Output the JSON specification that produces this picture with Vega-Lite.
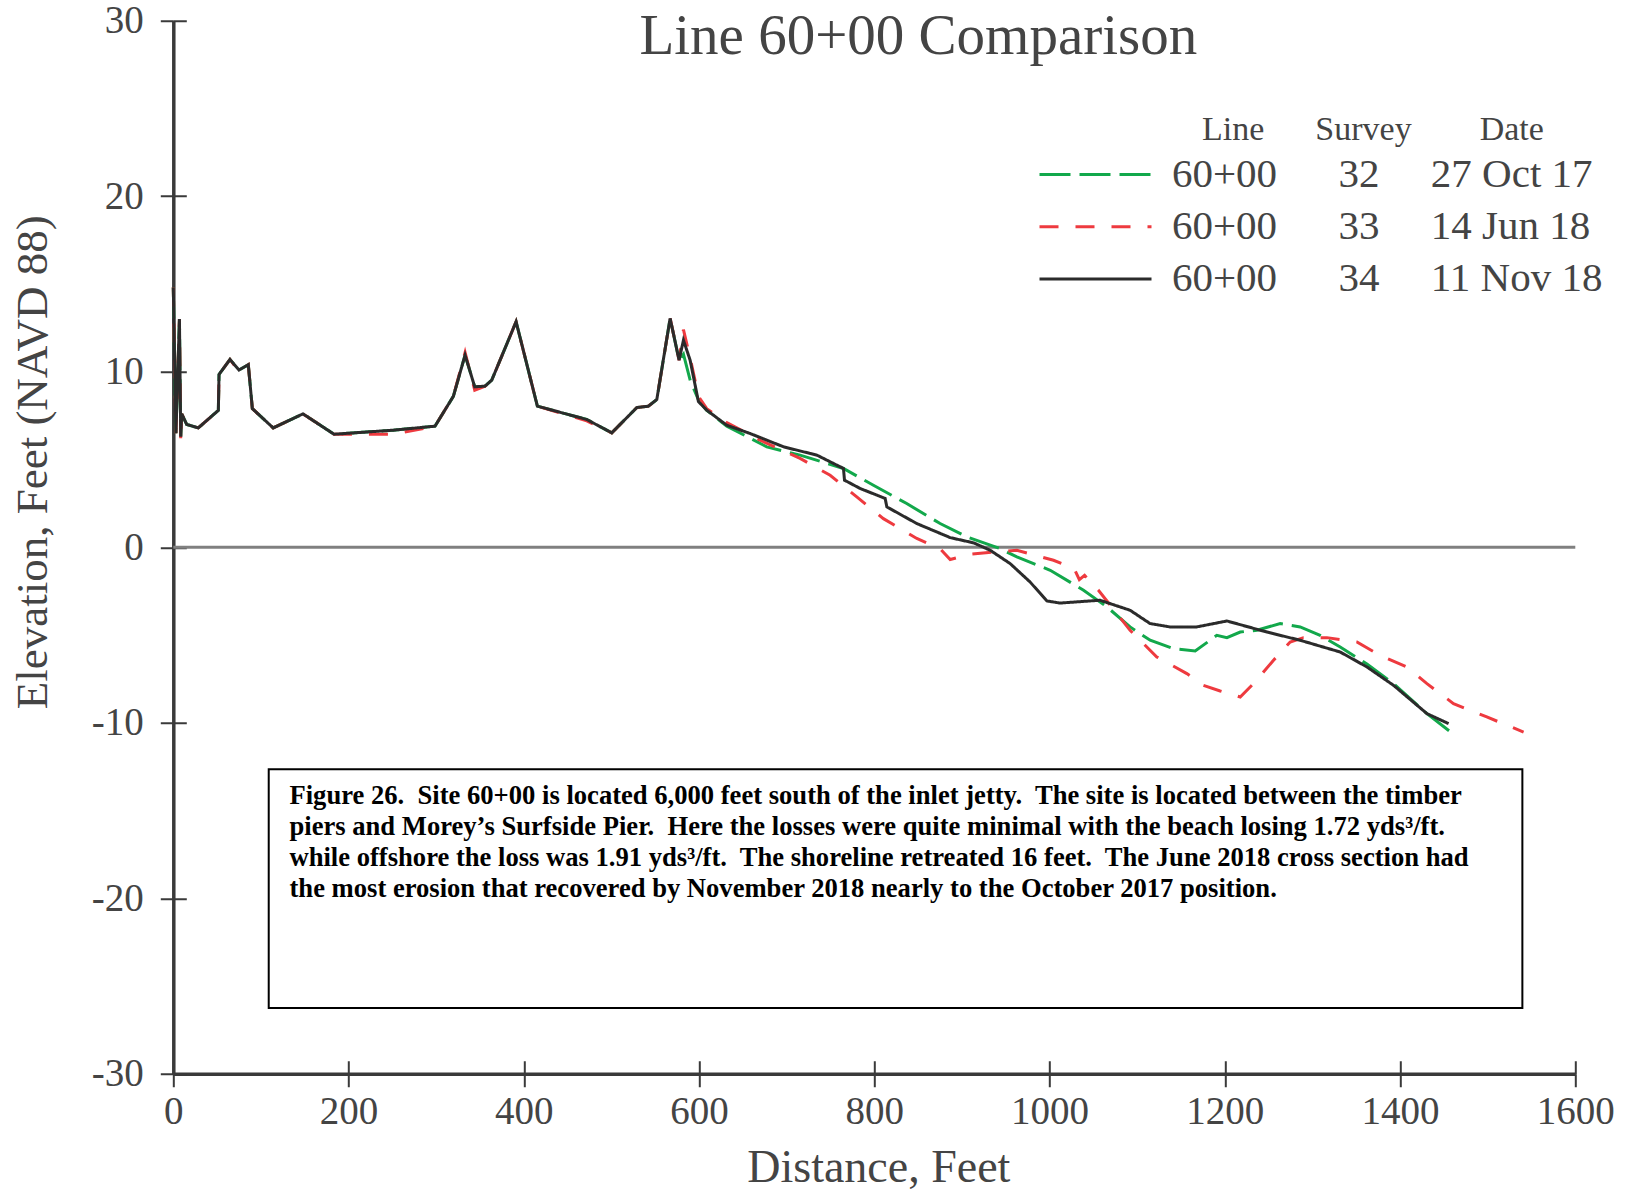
{
  "$schema": "https://vega.github.io/schema/vega-lite/v6.json",
  "width": 1402,
  "height": 1053,
  "autosize": {"type": "none"},
  "padding": {"left": 173.3, "top": 20.75, "right": 51.7, "bottom": 115.25},
  "background": "white",
  "config": {"view": {"stroke": null}, "font": "Liberation Serif"},
  "title": {"text": "Line 60+00 Comparison", "font": "Liberation Serif", "fontSize": 57, "fontWeight": "normal", "color": "#444444", "anchor": "middle", "frame": "group", "orient": "top", "offset": 0, "baseline": "alphabetic", "dx": 44, "dy": 109},
  "data": {"values": [
    {"survey":"32","dist":0,"elev":14.8},{"survey":"32","dist":3,"elev":6.5},{"survey":"32","dist":7,"elev":13.0},{"survey":"32","dist":8.5,"elev":6.3},{"survey":"32","dist":9.6,"elev":7.6},{"survey":"32","dist":15.3,"elev":7.0},{"survey":"32","dist":28.5,"elev":6.8},{"survey":"32","dist":51.4,"elev":7.8},{"survey":"32","dist":52.2,"elev":9.85},{"survey":"32","dist":64.7,"elev":10.7},{"survey":"32","dist":75,"elev":10.1},{"survey":"32","dist":85.6,"elev":10.4},{"survey":"32","dist":90.2,"elev":7.9},{"survey":"32","dist":114,"elev":6.8},{"survey":"32","dist":148,"elev":7.6},{"survey":"32","dist":183.4,"elev":6.44},{"survey":"32","dist":251,"elev":6.67},{"survey":"32","dist":298.7,"elev":6.9},{"survey":"32","dist":319.6,"elev":8.6},{"survey":"32","dist":333,"elev":10.95},{"survey":"32","dist":344,"elev":9.14},{"survey":"32","dist":355.8,"elev":9.18},{"survey":"32","dist":363.4,"elev":9.52},{"survey":"32","dist":391.2,"elev":12.85},{"survey":"32","dist":415.5,"elev":8.04},{"survey":"32","dist":471.8,"elev":7.28},{"survey":"32","dist":500.4,"elev":6.52},{"survey":"32","dist":529,"elev":7.96},{"survey":"32","dist":542.2,"elev":8.04},{"survey":"32","dist":551.8,"elev":8.42},{"survey":"32","dist":567,"elev":13.04},{"survey":"32","dist":577.2,"elev":10.66},
    {"survey":"32","dist":582.2,"elev":11.0},{"survey":"32","dist":590,"elev":9.5},{"survey":"32","dist":599.3,"elev":8.4},{"survey":"32","dist":608.8,"elev":7.8},{"survey":"32","dist":631.7,"elev":6.9},{"survey":"32","dist":677.3,"elev":5.72},{"survey":"32","dist":715.3,"elev":5.25},{"survey":"32","dist":764.8,"elev":4.49},{"survey":"32","dist":799,"elev":3.53},{"survey":"32","dist":837,"elev":2.49},{"survey":"32","dist":875.1,"elev":1.35},{"survey":"32","dist":905.6,"elev":0.59},{"survey":"32","dist":943.6,"elev":-0.08},{"survey":"32","dist":962.7,"elev":-0.55},{"survey":"32","dist":1000.8,"elev":-1.31},{"survey":"32","dist":1038.8,"elev":-2.45},{"survey":"32","dist":1065.5,"elev":-3.4},{"survey":"32","dist":1091.9,"elev":-4.54},{"survey":"32","dist":1114.8,"elev":-5.3},{"survey":"32","dist":1141.4,"elev":-5.78},{"survey":"32","dist":1166.2,"elev":-5.91},{"survey":"32","dist":1190.9,"elev":-5.02},{"survey":"32","dist":1202.4,"elev":-5.15},{"survey":"32","dist":1217.6,"elev":-4.83},{"survey":"32","dist":1236.6,"elev":-4.73},{"survey":"32","dist":1263.2,"elev":-4.35},{"survey":"32","dist":1286,"elev":-4.54},{"survey":"32","dist":1308.8,"elev":-5.02},{"survey":"32","dist":1331.7,"elev":-5.68},{"survey":"32","dist":1362.2,"elev":-6.65},{"survey":"32","dist":1392.6,"elev":-7.77},{"survey":"32","dist":1430.7,"elev":-9.48},{"survey":"32","dist":1459.2,"elev":-10.58},

    {"survey":"33","dist":0,"elev":14.8},{"survey":"33","dist":3,"elev":6.5},{"survey":"33","dist":7,"elev":13.0},{"survey":"33","dist":8.5,"elev":6.0},{"survey":"33","dist":9.6,"elev":7.6},{"survey":"33","dist":15.3,"elev":7.0},{"survey":"33","dist":28.5,"elev":6.8},{"survey":"33","dist":51.4,"elev":7.8},{"survey":"33","dist":52.2,"elev":9.85},{"survey":"33","dist":64.7,"elev":10.7},{"survey":"33","dist":75,"elev":10.0},{"survey":"33","dist":85.6,"elev":10.4},{"survey":"33","dist":90.2,"elev":7.9},{"survey":"33","dist":114,"elev":6.8},{"survey":"33","dist":148,"elev":7.6},{"survey":"33","dist":183.4,"elev":6.44},{"survey":"33","dist":251,"elev":6.44},{"survey":"33","dist":298.7,"elev":6.9},{"survey":"33","dist":319.6,"elev":8.6},{"survey":"33","dist":333,"elev":11.1},{"survey":"33","dist":344,"elev":8.95},{"survey":"33","dist":355.8,"elev":9.18},{"survey":"33","dist":363.4,"elev":9.52},{"survey":"33","dist":391.2,"elev":12.85},{"survey":"33","dist":415.5,"elev":8.04},{"survey":"33","dist":471.8,"elev":7.2},{"survey":"33","dist":500.4,"elev":6.52},{"survey":"33","dist":529,"elev":7.96},{"survey":"33","dist":542.2,"elev":8.04},{"survey":"33","dist":551.8,"elev":8.42},{"survey":"33","dist":567,"elev":13.04},{"survey":"33","dist":577.2,"elev":10.66},
    {"survey":"33","dist":582.2,"elev":12.4},{"survey":"33","dist":589.8,"elev":10.8},{"survey":"33","dist":599.3,"elev":8.6},{"survey":"33","dist":608.8,"elev":7.9},{"survey":"33","dist":631.7,"elev":7.1},{"survey":"33","dist":669.7,"elev":6.1},{"survey":"33","dist":715.3,"elev":5.06},{"survey":"33","dist":749.6,"elev":4.1},{"survey":"33","dist":780,"elev":2.87},{"survey":"33","dist":810.4,"elev":1.63},{"survey":"33","dist":848.5,"elev":0.5},{"survey":"33","dist":875.1,"elev":-0.08},{"survey":"33","dist":886.6,"elev":-0.7},{"survey":"33","dist":909.4,"elev":-0.4},{"survey":"33","dist":936,"elev":-0.27},{"survey":"33","dist":962.7,"elev":-0.17},{"survey":"33","dist":1004.5,"elev":-0.74},{"survey":"33","dist":1028,"elev":-1.2},{"survey":"33","dist":1034,"elev":-1.85},{"survey":"33","dist":1040,"elev":-1.6},{"survey":"33","dist":1055.8,"elev":-2.45},{"survey":"33","dist":1091.9,"elev":-4.73},{"survey":"33","dist":1122.4,"elev":-6.25},{"survey":"33","dist":1156.7,"elev":-7.2},{"survey":"33","dist":1175.6,"elev":-7.87},{"survey":"33","dist":1194.7,"elev":-8.19},{"survey":"33","dist":1217.6,"elev":-8.53},{"survey":"33","dist":1232.8,"elev":-7.77},{"survey":"33","dist":1255.6,"elev":-6.44},{"survey":"33","dist":1274.6,"elev":-5.4},{"survey":"33","dist":1289.8,"elev":-5.15},{"survey":"33","dist":1316.5,"elev":-5.15},{"survey":"33","dist":1350.7,"elev":-5.4},{"survey":"33","dist":1377.3,"elev":-6.16},{"survey":"33","dist":1407.7,"elev":-6.82},{"survey":"33","dist":1430.7,"elev":-7.77},{"survey":"33","dist":1461,"elev":-8.91},{"survey":"33","dist":1499,"elev":-9.67},{"survey":"33","dist":1541,"elev":-10.53},

    {"survey":"34","dist":0,"elev":14.8},{"survey":"34","dist":3,"elev":6.5},{"survey":"34","dist":7,"elev":13.0},{"survey":"34","dist":8.5,"elev":6.3},{"survey":"34","dist":9.6,"elev":7.6},{"survey":"34","dist":15.3,"elev":7.0},{"survey":"34","dist":28.5,"elev":6.8},{"survey":"34","dist":51.4,"elev":7.8},{"survey":"34","dist":52.2,"elev":9.85},{"survey":"34","dist":64.7,"elev":10.7},{"survey":"34","dist":75,"elev":10.1},{"survey":"34","dist":85.6,"elev":10.4},{"survey":"34","dist":90.2,"elev":7.9},{"survey":"34","dist":114,"elev":6.8},{"survey":"34","dist":148,"elev":7.6},{"survey":"34","dist":183.4,"elev":6.44},{"survey":"34","dist":251,"elev":6.67},{"survey":"34","dist":298.7,"elev":6.9},{"survey":"34","dist":319.6,"elev":8.6},{"survey":"34","dist":333,"elev":10.95},{"survey":"34","dist":344,"elev":9.14},{"survey":"34","dist":355.8,"elev":9.18},{"survey":"34","dist":363.4,"elev":9.52},{"survey":"34","dist":391.2,"elev":12.85},{"survey":"34","dist":415.5,"elev":8.04},{"survey":"34","dist":471.8,"elev":7.28},{"survey":"34","dist":500.4,"elev":6.52},{"survey":"34","dist":529,"elev":7.96},{"survey":"34","dist":542.2,"elev":8.04},{"survey":"34","dist":551.8,"elev":8.42},{"survey":"34","dist":567,"elev":13.04},{"survey":"34","dist":577.2,"elev":10.66},
    {"survey":"34","dist":582.2,"elev":11.8},{"survey":"34","dist":589.8,"elev":10.66},{"survey":"34","dist":599.3,"elev":8.3},{"survey":"34","dist":608.8,"elev":7.81},{"survey":"34","dist":631.7,"elev":6.95},{"survey":"34","dist":658.3,"elev":6.48},{"survey":"34","dist":696.6,"elev":5.72},{"survey":"34","dist":734.4,"elev":5.25},{"survey":"34","dist":764.8,"elev":4.49},{"survey":"34","dist":766,"elev":3.82},{"survey":"34","dist":783.8,"elev":3.35},{"survey":"34","dist":812.4,"elev":2.78},{"survey":"34","dist":814.3,"elev":2.3},{"survey":"34","dist":848.5,"elev":1.35},{"survey":"34","dist":886.6,"elev":0.55},{"survey":"34","dist":913.3,"elev":0.25},{"survey":"34","dist":932.2,"elev":-0.17},{"survey":"34","dist":955,"elev":-0.93},{"survey":"34","dist":977.8,"elev":-1.98},{"survey":"34","dist":996.9,"elev":-3.06},{"survey":"34","dist":1012,"elev":-3.18},{"survey":"34","dist":1057.6,"elev":-3.02},{"survey":"34","dist":1091.9,"elev":-3.59},{"survey":"34","dist":1114.8,"elev":-4.35},{"survey":"34","dist":1137.6,"elev":-4.54},{"survey":"34","dist":1168,"elev":-4.54},{"survey":"34","dist":1202.4,"elev":-4.2},{"survey":"34","dist":1248,"elev":-4.83},{"survey":"34","dist":1286,"elev":-5.3},{"survey":"34","dist":1331.7,"elev":-5.97},{"survey":"34","dist":1362.2,"elev":-6.82},{"survey":"34","dist":1392.6,"elev":-7.87},{"survey":"34","dist":1430.7,"elev":-9.48},{"survey":"34","dist":1455.4,"elev":-10.05}
  ]},
  "layer": [
    {
      "data": {"values": [{}]},
      "mark": {"type": "rule", "color": "#808080", "strokeWidth": 3},
      "encoding": {"y": {"datum": 0, "type": "quantitative", "axis": null}}
    },
    {
      "data": {"values": [{}]},
      "mark": {"type": "rect", "fill": "white", "stroke": "black", "strokeWidth": 2},
      "encoding": {
        "x": {"datum": 108.9, "type": "quantitative", "axis": null},
        "x2": {"datum": 1539.6},
        "y": {"datum": -12.65, "type": "quantitative", "axis": null},
        "y2": {"datum": -26.25}
      }
    },
    {
      "data": {"values": [{}]},
      "mark": {
        "type": "text",
        "text": [
          "Figure 26.\u00a0 Site 60+00 is located 6,000 feet south of the inlet jetty.\u00a0 The site is located between the timber",
          "piers and Morey\u2019s Surfside Pier.\u00a0 Here the losses were quite minimal with the beach losing 1.72 yds\u00b3/ft.",
          "while offshore the loss was 1.91 yds\u00b3/ft.\u00a0 The shoreline retreated 16 feet.\u00a0 The June 2018 cross section had",
          "the most erosion that recovered by November 2018 nearly to the October 2017 position."
        ],
        "font": "Liberation Serif", "fontWeight": "bold", "fontSize": 26.6, "lineHeight": 31,
        "align": "left", "baseline": "alphabetic", "color": "black"
      },
      "encoding": {
        "x": {"datum": 132.6, "type": "quantitative", "axis": null},
        "y": {"datum": -14.65, "type": "quantitative", "axis": null}
      }
    },
    {
      "mark": {"type": "line", "opacity": 0},
      "encoding": {
        "x": {"field": "dist", "type": "quantitative",
          "axis": {"orient": "bottom", "offset": -13, "values": [0,200,400,600,800,1000,1200,1400,1600], "tickSize": 13, "tickWidth": 2, "tickColor": "#3a3a3a", "domain": false, "labels": false, "grid": false, "title": null}},
        "y": {"field": "elev", "type": "quantitative",
          "axis": {"orient": "left", "offset": -13, "values": [-30,-20,-10,0,10,20,30], "tickSize": 13, "tickWidth": 2, "tickColor": "#3a3a3a", "domain": false, "labels": false, "grid": false, "title": null}},
        "detail": {"field": "survey"}
      }
    },
    {
      "mark": {"type": "line", "strokeWidth": 3},
      "encoding": {
        "x": {"field": "dist", "type": "quantitative",
          "scale": {"domain": [0, 1600], "nice": false, "zero": false},
          "axis": {"orient": "bottom", "values": [0,200,400,600,800,1000,1200,1400,1600], "labelExpr": "'' + datum.value",
            "domainColor": "#3a3a3a", "domainWidth": 3.5, "tickColor": "#3a3a3a", "tickWidth": 2, "tickSize": 13,
            "labelFont": "Liberation Serif", "labelFontSize": 39, "labelColor": "#444444", "labelPadding": 6,
            "labelOverlap": false, "labelFlush": false, "grid": false,
            "title": "Distance, Feet", "titleFont": "Liberation Serif", "titleFontSize": 46, "titleFontWeight": "normal",
            "titleColor": "#444444", "titleX": 705, "titleY": 108, "titleAlign": "center", "titleBaseline": "alphabetic"}},
        "y": {"field": "elev", "type": "quantitative",
          "scale": {"domain": [-30, 30], "nice": false, "zero": false},
          "axis": {"orient": "left", "values": [-30,-20,-10,0,10,20,30], "labelExpr": "'' + datum.value",
            "domainColor": "#3a3a3a", "domainWidth": 3.5, "tickColor": "#3a3a3a", "tickWidth": 2, "tickSize": 13,
            "labelFont": "Liberation Serif", "labelFontSize": 39, "labelColor": "#444444", "labelPadding": 17,
            "labelOverlap": false, "labelFlush": false, "grid": false,
            "title": "Elevation, Feet (NAVD 88)", "titleFont": "Liberation Serif", "titleFontSize": 45, "titleFontWeight": "normal",
            "titleColor": "#444444", "titleX": -127, "titleY": 441, "titleAngle": -90, "titleAlign": "center", "titleBaseline": "alphabetic"}},
        "color": {"field": "survey", "type": "nominal",
          "scale": {"domain": ["32", "33", "34"], "range": ["#12a84b", "#ee3a3f", "#2b2b2b"]},
          "legend": {"orient": "none", "legendX": 892.7, "legendY": 92, "direction": "vertical",
            "title": "\u200b\u00a0\u00a0\u00a0\u00a0\u00a0\u00a0\u00a0\u00a0\u00a0\u00a0\u00a0\u00a0\u00a0\u00a0\u00a0\u00a0Line\u00a0\u00a0\u00a0\u00a0\u00a0\u00a0Survey\u00a0\u00a0\u00a0\u00a0\u00a0\u00a0\u00a0\u00a0Date",
            "labelExpr": "'60+00\u00a0\u00a0\u00a0\u00a0\u00a0\u00a0' + datum.label + '\u00a0\u00a0\u00a0\u00a0\u00a0' + (datum.label == '32' ? '27 Oct 17' : datum.label == '33' ? '14 Jun 18' : '11 Nov 18')",
            "titleFont": "Liberation Serif", "titleFontSize": 34, "titleFontWeight": "normal", "titleColor": "#444444", "titlePadding": -1.7, "titleLimit": 2000,
            "labelFont": "Liberation Serif", "labelFontSize": 41, "labelColor": "#444444", "labelOffset": 47, "labelLimit": 2000,
            "symbolType": "M-2,0H2", "symbolSize": 3136, "symbolStrokeWidth": 3, "rowPadding": 2.2, "padding": 0}},
        "strokeDash": {"field": "survey", "type": "nominal",
          "scale": {"domain": ["32", "33", "34"], "range": [[31, 9], [19, 17], [1, 0]]},
          "legend": {"orient": "none", "legendX": 892.7, "legendY": 92, "direction": "vertical",
            "title": "\u200b\u00a0\u00a0\u00a0\u00a0\u00a0\u00a0\u00a0\u00a0\u00a0\u00a0\u00a0\u00a0\u00a0\u00a0\u00a0\u00a0Line\u00a0\u00a0\u00a0\u00a0\u00a0\u00a0Survey\u00a0\u00a0\u00a0\u00a0\u00a0\u00a0\u00a0\u00a0Date",
            "labelExpr": "'60+00\u00a0\u00a0\u00a0\u00a0\u00a0\u00a0' + datum.label + '\u00a0\u00a0\u00a0\u00a0\u00a0' + (datum.label == '32' ? '27 Oct 17' : datum.label == '33' ? '14 Jun 18' : '11 Nov 18')",
            "titleFont": "Liberation Serif", "titleFontSize": 34, "titleFontWeight": "normal", "titleColor": "#444444", "titlePadding": -1.7, "titleLimit": 2000,
            "labelFont": "Liberation Serif", "labelFontSize": 41, "labelColor": "#444444", "labelOffset": 47, "labelLimit": 2000,
            "symbolType": "M-2,0H2", "symbolSize": 3136, "symbolStrokeWidth": 3, "rowPadding": 2.2, "padding": 0}}
      }
    }
  ],
  "resolve": {"axis": {"x": "independent", "y": "independent"}}
}
